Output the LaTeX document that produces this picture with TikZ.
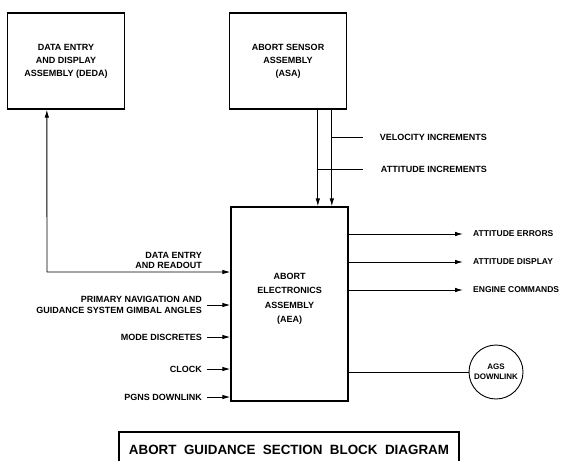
\documentclass[tikz,border=0pt]{standalone}
\usepackage{fontspec}
\setmainfont{Liberation Sans}
\usetikzlibrary{arrows.meta}
\begin{document}
\begin{tikzpicture}[x=1pt,y=-1pt,
  blk/.style={draw,line width=1.3pt,minimum width=117pt,inner sep=0pt,font=\fontsize{9}{13}\selectfont\bfseries,align=center},
  lbl/.style={font=\fontsize{9}{10.5}\selectfont\bfseries,inner sep=0pt},
  rlbl/.style={font=\fontsize{8.5}{10}\selectfont\bfseries,inner sep=0pt,anchor=west},
  conn/.style={line width=0.9pt},
  arr/.style={conn,-{Latex[length=8pt,width=4.5pt]}},
  darr/.style={conn,{Latex[length=8pt,width=4.5pt]}-{Latex[length=8pt,width=4.5pt]}}]
\useasboundingbox (0,0) rectangle (561,460);
\node[blk,minimum height=96pt] (deda) at (66,61) {DATA ENTRY\\AND DISPLAY\\ASSEMBLY (DEDA)};
\node[blk,minimum height=96pt] (asa) at (288,61) {ABORT SENSOR\\ASSEMBLY\\(ASA)};
\node[blk,minimum height=194pt,text height=0pt] (aea) at (289.5,304) {};
\node[font=\fontsize{9}{14.5}\selectfont\bfseries,align=center,inner sep=0pt] (aeatext) at (289.5,299) {ABORT\\ELECTRONICS\\ASSEMBLY\\(AEA)};
\node[draw,circle,line width=0.9pt,minimum size=54pt,inner sep=0pt,font=\fontsize{8}{10}\selectfont\bfseries,align=center] (ags) at (496,372) {AGS\\DOWNLINK};
% ASA outputs
\coordinate (a1) at ([xshift=89pt]asa.south west);
\coordinate (a2) at ([xshift=103pt]asa.south west);
\draw[arr] (a1) -- (a1 |- aea.north);
\draw[arr] (a2) -- (a2 |- aea.north);
\node[lbl,anchor=east] (vel) at (487,137) {VELOCITY INCREMENTS};
\node[lbl,anchor=east] (att) at (487,169) {ATTITUDE INCREMENTS};
\coordinate (v1) at (363,137);
\coordinate (t1) at (363,169);
\draw[conn] (a2 |- vel) -- (v1);
\draw[conn] (a1 |- att) -- (t1);
% DEDA link
\coordinate (d0) at ([xshift=40pt]deda.south west);
\coordinate (d1) at (47,272);
\draw[darr] (d0) -- (d1) -- (d1 -| aea.west);
\node[lbl,anchor=south east,align=right] (der) at (202,269) {DATA ENTRY\\AND READOUT};
% Inputs
\node[lbl,anchor=east,align=right] (pn) at (202,305) {PRIMARY NAVIGATION AND\\GUIDANCE SYSTEM GIMBAL ANGLES};
\node[lbl,anchor=east] (md) at (202,337) {MODE DISCRETES};
\node[lbl,anchor=east] (ck) at (202,369) {CLOCK};
\node[lbl,anchor=east] (pg) at (202,397) {PGNS DOWNLINK};
\foreach \n in {pn,md,ck,pg}{
  \draw[arr] ([xshift=5pt]\n.east) -- (\n -| aea.west);
}
% Outputs
\node[rlbl] (ae) at (473,234) {ATTITUDE ERRORS};
\node[rlbl] (ad) at (473,262) {ATTITUDE DISPLAY};
\node[rlbl] (ec) at (473,290) {ENGINE COMMANDS};
\foreach \n in {ae,ad,ec}{
  \draw[arr] (\n -| aea.east) -- ([xshift=-10pt]\n.west);
}
\draw[conn] (ags -| aea.east) -- (ags.west);
% Title
\begin{scope}
\clip (0,0) rectangle (561,460);
\draw[line width=1.1pt] (119,432) rectangle (459,470);
\node[font=\fontsize{13.4}{15}\selectfont\bfseries,inner sep=0pt] (title) at (289,450) {ABORT\ \ GUIDANCE\ \ SECTION\ \ BLOCK\ \ DIAGRAM};
\end{scope}
\end{tikzpicture}
\end{document}
